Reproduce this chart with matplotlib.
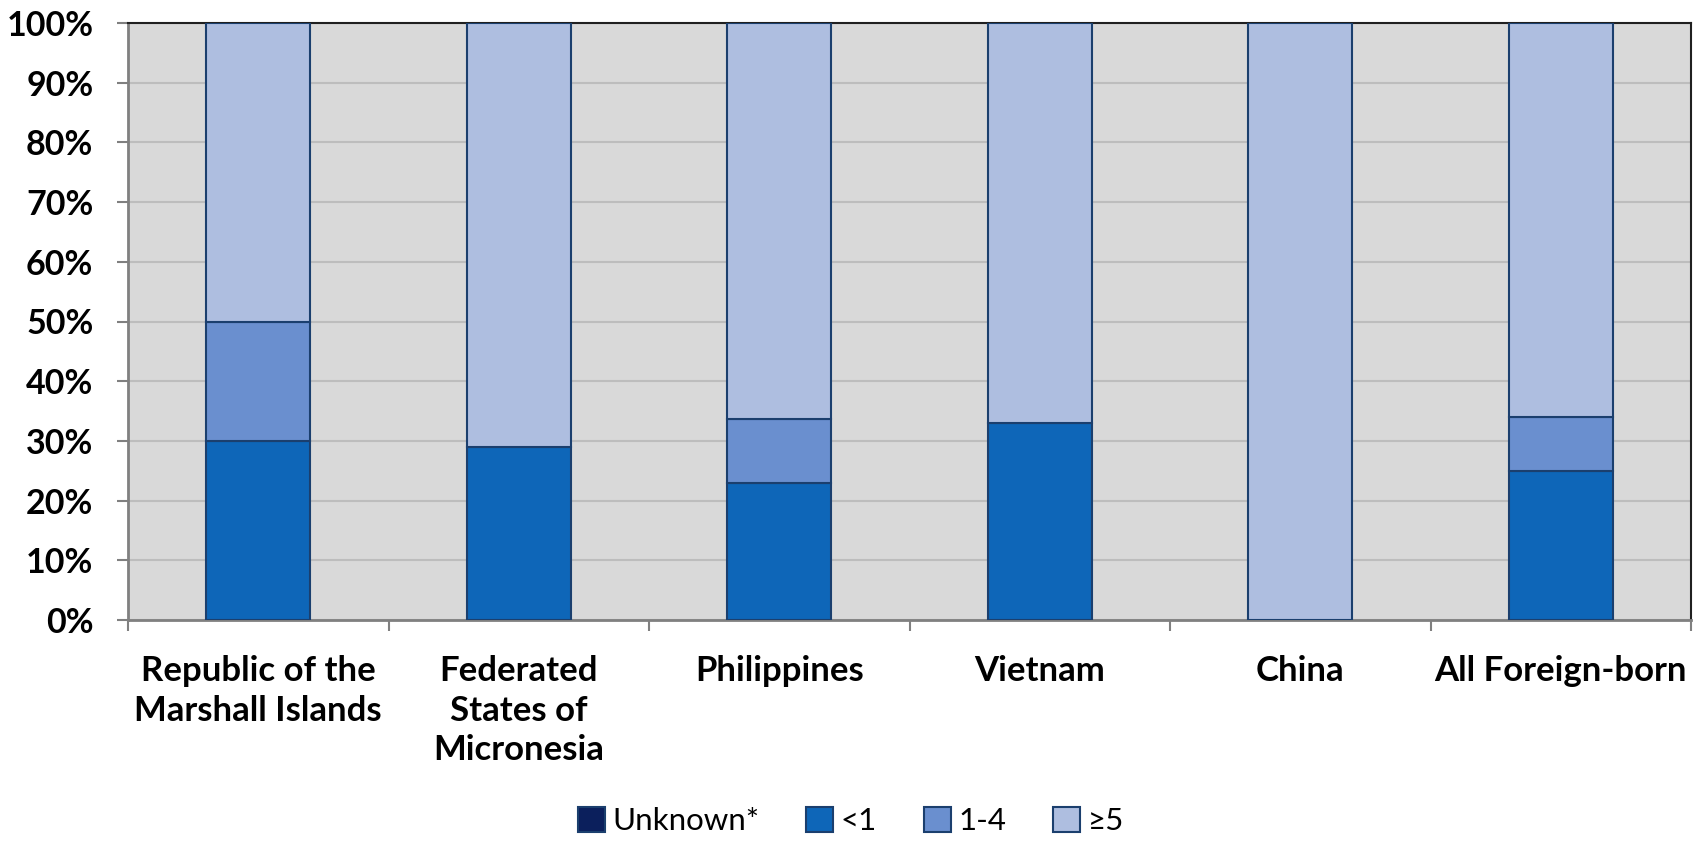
import matplotlib
matplotlib.use("Agg")
import matplotlib.pyplot as plt
import numpy as np
from matplotlib.patches import Patch

categories = ["Republic of the\nMarshall Islands", "Federated\nStates of\nMicronesia",
              "Philippines", "Vietnam", "China", "All Foreign-born"]
series_names = ["Unknown*", "<1", "1-4", "\u22655"]
unknown = [0, 0, 0, 0, 0, 0]
lt1 = [30, 29, 23, 33, 0, 25]
y1_4 = [20, 0, 10.7, 0, 0, 9]
ge5 = [50, 71, 66.3, 67, 100, 66]
yticks = [0, 10, 20, 30, 40, 50, 60, 70, 80, 90, 100]

colors = ["#0B1F5C", "#0E66B8", "#6A8FCF", "#AEBEE0"]
edge = "#1B3F6E"

plt.rcParams['font.family'] = ['Lato', 'DejaVu Sans']

fig = plt.figure(figsize=(17.02, 8.42), dpi=100)
ax = fig.add_axes([128/1702, 1-620/842, (1691-128)/1702, (620-23)/842])
ax.set_facecolor("#D9D9D9")

x = np.arange(len(categories))
w = 0.4
bottom = np.zeros(len(categories))
for vals, c in zip([unknown, lt1, y1_4, ge5], colors):
    v = np.array(vals, dtype=float)
    mask = v > 0
    ax.bar(x[mask], v[mask], w, bottom=bottom[mask], color=c, edgecolor=edge,
           linewidth=1.5, zorder=3)
    bottom += v

ax.set_xlim(-0.5, len(categories) - 0.5)
ax.set_ylim(0, 100)
ax.set_yticks(yticks)
ax.set_yticklabels([f"{t}%" for t in yticks], fontsize=24.5, fontweight="bold")
ax.yaxis.grid(True, color="#BDBDBD", linewidth=1.5, zorder=0)
ax.set_axisbelow(True)

ax.set_xticks(np.arange(-0.5, len(categories)), minor=False)
ax.set_xticklabels([])
ax.set_xticks(x, minor=True)
ax.set_xticklabels(categories, minor=True, fontsize=25, fontweight="bold",
                   linespacing=1.3, va="top")
ax.tick_params(axis="x", which="minor", length=0, pad=25)
ax.tick_params(axis="x", which="major", length=8, width=1.5, color="#808080")
ax.tick_params(axis="y", length=8, width=1.5, color="#808080", pad=17)

for s in ["left", "bottom"]:
    ax.spines[s].set_color("#808080")
    ax.spines[s].set_linewidth(2)
for s in ["top", "right"]:
    ax.spines[s].set_color("#202020")
    ax.spines[s].set_linewidth(1.5)

handles = [Patch(facecolor=c, edgecolor=edge, linewidth=1.5) for c in colors]
fig.legend(handles, series_names, loc="lower center", bbox_to_anchor=(0.5, -0.025),
           ncol=4, frameon=False, fontsize=22.5, handlelength=0.85, handleheight=0.85,
           handletextpad=0.25, columnspacing=1.5)

fig.savefig("out.png", dpi=100, facecolor="white")
